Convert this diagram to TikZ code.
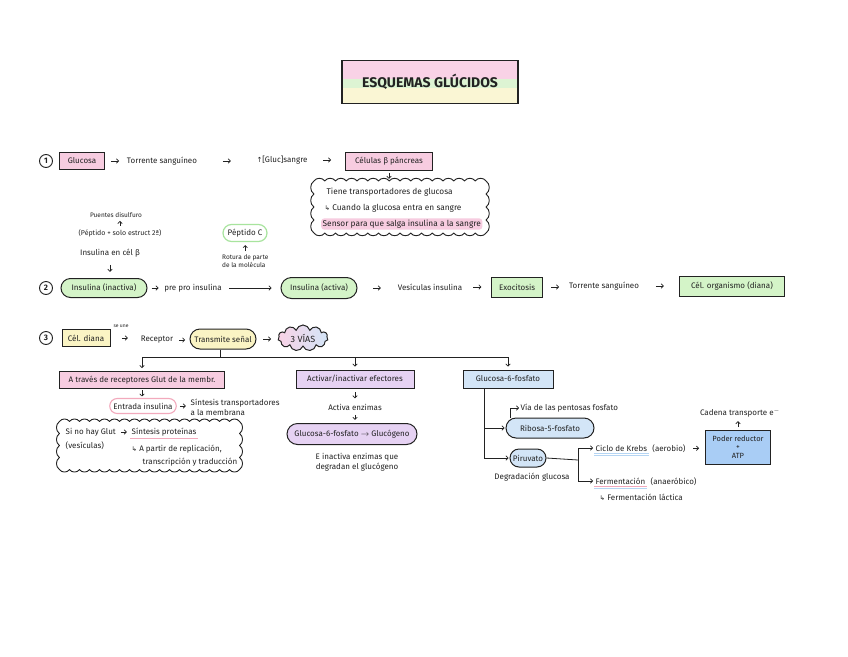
\documentclass[tikz,border=0pt]{standalone}
\usepackage{fontspec}
\setmainfont{Fira Sans}
\newfontfamily\dejavu{DejaVu Sans}
\usetikzlibrary{shapes.geometric,shapes.symbols,shapes.misc,arrows.meta,calc}
\definecolor{ink}{HTML}{222222}
\definecolor{pk}{HTML}{F7CCE0}
\definecolor{gr}{HTML}{D4F4C8}
\definecolor{yl}{HTML}{FAF4C4}
\definecolor{pu}{HTML}{E6D2F3}
\definecolor{bl}{HTML}{D3E5F7}
\definecolor{bltwo}{HTML}{A9CDF5}
\definecolor{grline}{HTML}{A8E49E}
\definecolor{pkline}{HTML}{F2A9BC}
\definecolor{blline}{HTML}{B5D5F3}
\definecolor{tpk}{HTML}{F9D2E6}
\definecolor{tgr}{HTML}{DDF4D3}
\definecolor{tyl}{HTML}{FAF6D4}
\newcommand{\hk}{{\dejavu\fontsize{6.5}{7}\selectfont ↳}}
\newcommand{\upar}{{\dejavu\fontsize{7}{7}\selectfont ↑}}
% scalloped outline round a node: #1 node, #2 bumps across, #3 bump width, #4 bumps down, #5 bump height
\newcommand{\scallop}[5]{%
  \draw[ink, line width=0.9pt, line join=round] (#1.north west)
    foreach \i in {1,...,#2}{ to[bend left=60] ++(#3,0) }
    foreach \i in {1,...,#4}{ to[bend left=60] ++(0,#5) }
    foreach \i in {1,...,#2}{ to[bend left=60] ++(-#3,0) }
    foreach \i in {1,...,#4}{ to[bend left=60] ++(0,-#5) };}
\begin{document}
\begin{tikzpicture}[x=1pt,y=-1pt,
  font=\fontsize{8}{10}\selectfont, text=ink, inner sep=1.5pt,
  box/.style={draw=ink, line width=1pt, inner sep=2.5pt},
  oval/.style={rounded rectangle, draw=ink, line width=1pt, inner xsep=3pt, inner ysep=2pt},
  num/.style={circle, draw=ink, line width=0.9pt, inner sep=0pt, minimum size=13, font=\fontsize{8}{8}\selectfont\bfseries},
  arb/.style={draw=ink, -{Straight Barb[length=2.2pt,width=4.5pt]}, line width=0.7pt},
  ar/.style={arb, shorten <=4pt, shorten >=4pt},
  harr/.style={to path={let \p1=(\tikztostart.east), \p2=(\tikztotarget.west) in ({(\x1+\x2)/2-#1},\y1) -- ({(\x1+\x2)/2+#1},\y1)}},
  harr/.default=4pt,
  darr/.style={to path={let \p1=(\tikztostart.south), \p2=(\tikztotarget.north) in (\x1,{(\y1+\y2)/2+#1}) -- (\x1,{(\y1+\y2)/2-#1})}},
  darr/.default=3.5pt,
  uarr/.style={to path={let \p1=(\tikztostart.north), \p2=(\tikztotarget.south) in (\x1,{(\y1+\y2)/2-#1}) -- (\x1,{(\y1+\y2)/2+#1})}},
  uarr/.default=3pt,
  small/.style={font=\fontsize{6.5}{8}\selectfont},
  cloudtxt/.style={font=\fontsize{8.3}{10}\selectfont},
  cloudarea/.style={inner sep=0pt, outer sep=2pt},
]
\useasboundingbox[fill=white] (0,0) rectangle (848,656);

% Title
\node[draw=ink, line width=1.2pt, minimum width=176, minimum height=43,
  font=\fontsize{14}{14}\selectfont\bfseries,
  path picture={
    \fill[tpk] (path picture bounding box.north west) rectangle ([yshift=-18pt]path picture bounding box.north east);
    \fill[tgr] ([yshift=-18pt]path picture bounding box.north west) rectangle ([yshift=-27pt]path picture bounding box.north east);
    \fill[tyl] ([yshift=-27pt]path picture bounding box.north west) rectangle (path picture bounding box.south east);
  }] (title) at (430,82) {ESQUEMAS GLÚCIDOS};

% Row 1
\node[num] (n1) at (46,161) {1};
\node[box, fill=pk, minimum width=45, minimum height=17] (gluc) at (82,161) {Glucosa};
\node (torr) at (162,161) {Torrente sanguíneo};
\node (glc) at (282,160) {\upar[Gluc]sangre};
\node[box, fill=pk, minimum width=87, minimum height=18] (cel) at (389,161) {Células β páncreas};
\draw[arb] (gluc) to[harr] (torr);
\draw[arb] (torr) to[harr] (glc);
\draw[arb] (glc) to[harr] (cel);

\node[cloudarea, minimum width=172, minimum height=52] (cloud1) at (402,209) {};
\scallop{cloud1}{16}{10.75}{4}{13}
\draw[arb] (cel) to[darr=3pt] (cloud1);
\node[cloudtxt, anchor=west] (c1a) at (325,192) {Tiene transportadores de glucosa};
\node[cloudtxt, anchor=west] (c1b) at (323,208) {\hk\ Cuando la glucosa entra en sangre};
\node[cloudtxt, anchor=west, fill=pk, rounded corners=3pt] (c1c) at (321,224) {Sensor para que salga insulina a la sangre};

% top-left notes
\node[small] (pd) at (116,215) {Puentes disulfuro};
\node[font=\fontsize{7}{9}\selectfont] (pep) at (120,233) {(Péptido + solo estruct 2ª)};
\draw[arb] (pep) to[uarr=2.5pt] (pd);
\node (ins) at (110,253) {Insulina en cél β};

\node[oval, draw=grline, line width=1.2pt, fill=white, minimum width=50, minimum height=17] (pepc) at (245,233) {Péptido C};
\node[small, align=left, anchor=north west, inner sep=0pt] (rot) at (222,254) {Rotura de parte\\de la molécula};
\draw[arb] (rot) to[uarr] (pepc);

% Row 2
\node[num] (n2) at (46,288) {2};
\node[oval, fill=gr, minimum width=92, minimum height=19] (ina) at (104,288) {Insulina (inactiva)};
\draw[arb] (ins) to[darr] (ina);
\node (ppi) at (193,288) {pre pro insulina};
\node[oval, fill=gr, minimum width=82, minimum height=21] (act) at (319,288) {Insulina (activa)};
\node (ves) at (430,287) {Vesículas insulina};
\node[box, fill=gr, minimum width=51, minimum height=20] (exo) at (517,287) {Exocitosis};
\node (torr2) at (604,286) {Torrente sanguíneo};
\node[box, fill=gr, minimum width=105, minimum height=20] (dian) at (732,286) {Cél. organismo (diana)};
\draw[arb] (ina) to[harr=3.5pt] (ppi);
\draw[ar, shorten <=6pt, shorten >=9pt] (ppi) -- (act);
\draw[arb] (act) to[harr] (ves);
\draw[arb] (ves) to[harr] (exo);
\draw[arb] (exo) to[harr] (torr2);
\draw[arb] (torr2) to[harr] (dian);

% Row 3
\node[num] (n3) at (46,338) {3};
\node[box, fill=yl, minimum width=48, minimum height=17] (cd) at (86,338) {Cél. diana};
\node[font=\fontsize{5}{6}\selectfont] (seune) at (121,326) {se une};
\node (rec) at (157,340) {Receptor};
\node[oval, fill=yl, minimum width=72, minimum height=20] (trs) at (223,339) {Transmite señal};
\node[cloud, cloud puffs=11, cloud ignores aspect, draw=ink, line width=1pt, left color=tpk, right color=bl,
  minimum width=50, minimum height=26, font=\fontsize{9}{9}\selectfont] (vias) at (303,338) {3 VÍAS};
\draw[arb] (cd) to[harr=3pt] (rec);
\draw[arb] (rec) to[harr=3pt] (trs);
\draw[arb] (trs) to[harr] (vias);

% branch boxes
\node[box, fill=pk, minimum width=165, minimum height=17] (b1) at (142,380) {A través de receptores Glut de la membr.};
\node[box, fill=pu, minimum width=118, minimum height=18] (b2) at (355,379) {Activar/inactivar efectores};
\node[box, fill=bl, minimum width=90, minimum height=18] (b3) at (508,379) {Glucosa-6-fosfato};
\coordinate (tj) at (220,357);
\draw[line width=0.8pt, ink] (trs.south -| tj) -- (tj);
\draw[line width=0.8pt, ink] (b1.north |- tj) -- (b3.north |- tj);
\draw[arb, shorten >=3pt] (b1.north |- tj) -- (b1.north);
\draw[arb, shorten >=3pt] (b2.north |- tj) -- (b2.north);
\draw[arb, shorten >=3pt] (b3.north |- tj) -- (b3.north);

% left branch
\node[oval, draw=pkline, line width=1.1pt, minimum width=63, minimum height=15] (ent) at (143,406) {Entrada insulina};
\draw[arb] (b1) to[darr=3pt] (ent);
\node[align=left, anchor=west] (sint) at (189,407) {Síntesis transportadores\\a la membrana};
\draw[arb] (ent) to[harr=3pt] (sint);
\node[cloudarea, minimum width=180, minimum height=48] (cloud2) at (151.5,447.5) {};
\scallop{cloud2}{18}{10}{4}{12}
\node[anchor=west] (sng) at (64,432) {Si no hay Glut};
\node[anchor=west] (sp) at (130,432) {Síntesis proteínas};
\draw[pkline, line width=0.9pt] ([yshift=-0.5pt]sp.south west) -- ([yshift=-0.5pt]sp.south east);
\draw[arb] (sng) to[harr=3pt] (sp);
\node[anchor=west] (vesc) at (64,446) {(vesículas)};
\node[anchor=west] (apr) at (130,449) {\hk\ A partir de replicación,};
\node[anchor=west] (tt) at (141,462) {transcripción y traducción};

% middle branch
\node (ae) at (355,407) {Activa enzimas};
\draw[arb] (b2) to[darr=3pt] (ae);
\node[oval, fill=pu, minimum width=136, minimum height=21] (gg) at (352,434) {Glucosa-6-fosfato $\rightarrow$ Glucógeno};
\draw[arb] (ae) to[darr=2.5pt] (gg);
\node[align=center] (einac) at (357,462) {E inactiva enzimas que\\degradan el glucógeno};

% right branch
\node[oval, fill=bl, minimum width=94, minimum height=20] (rib) at (550,428) {Ribosa-5-fosfato};
\node[oval, fill=bl, minimum width=42, minimum height=18] (pir) at (528,458) {Piruvato};
\node (dg) at (532,477) {Degradación glucosa};
\node[anchor=west] (vp) at (519,408) {Vía de las pentosas fosfato};
\coordinate (rv) at (484,390);
\draw[line width=0.8pt, ink] (b3.south -| rv) -- (rv |- pir);
\draw[arb, shorten >=1pt] (rv |- rib) -- (rib.west);
\draw[arb, shorten >=1pt] (rv |- pir) -- (pir.west);
\coordinate (hook) at (510,418);
\draw[arb] (hook) |- (vp.west);

\node[anchor=west] (krA) at (594,448) {Ciclo de Krebs};
\node[anchor=base west] (krB) at ([xshift=2pt]krA.base east) {(aerobio)};
\draw[blline, line width=0.9pt] ([yshift=-0.5pt]krA.south west) -- ([yshift=-0.5pt]krA.south east);
\draw[blline, line width=0.9pt] ([yshift=-2.5pt]krA.south west) -- ([yshift=-2.5pt]krA.south east);
\node[anchor=west] (feA) at (594,481) {Fermentación};
\node[anchor=base west] (feB) at ([xshift=2pt]feA.base east) {(anaeróbico)};
\draw[pkline, line width=0.9pt] ([yshift=-0.5pt]feA.south west) -- ([yshift=-0.5pt]feA.south east);
\draw[blline, line width=0.9pt] ([yshift=-2.5pt]feA.south west) -- ([yshift=-2.5pt]feA.south east);
\node[anchor=west] (lac) at (598,497) {\hk\ Fermentación láctica};
\coordinate (fk) at (578,460);
\draw[line width=0.8pt, ink] (pir.east) -- (fk);
\draw[line width=0.8pt, ink] (fk |- krA) -- (fk |- feA);
\draw[arb, shorten >=1pt] (fk |- krA) -- (krA.west);
\draw[arb, shorten >=1pt] (fk |- feA) -- (feA.west);

\node[box, fill=bltwo, minimum width=65, minimum height=34, align=center, font=\fontsize{7.5}{8.5}\selectfont] (pr) at (738,447) {Poder reductor\\+\\ATP};
\draw[arb] (krB) to[harr=3pt] (pr);
\node (cte) at (740,413) {Cadena transporte e$^-$};
\draw[arb] (pr) to[uarr=3pt] (cte);
\end{tikzpicture}
\end{document}
